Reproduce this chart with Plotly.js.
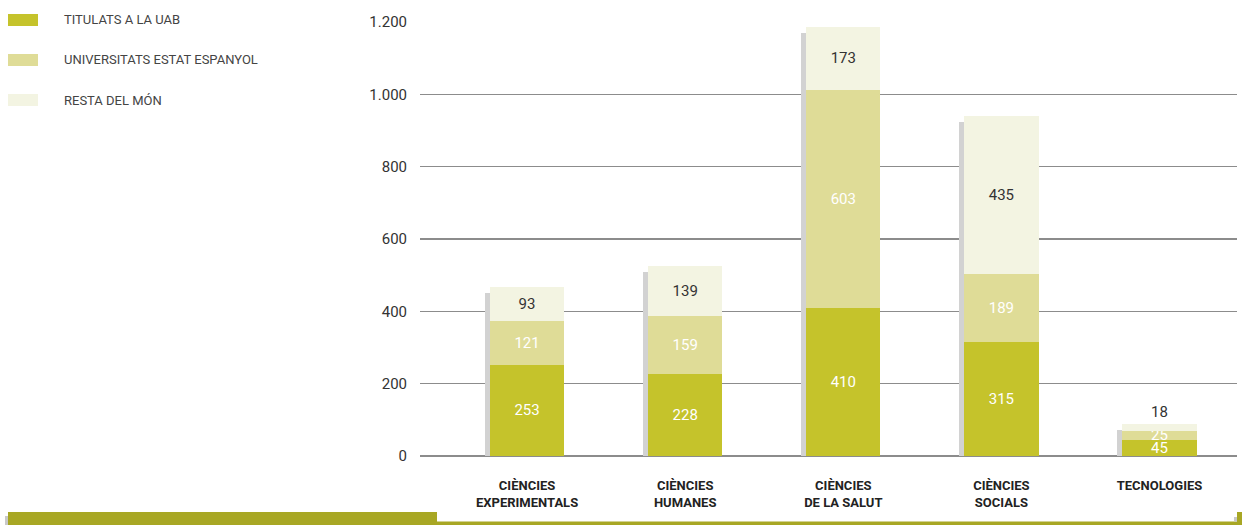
<!DOCTYPE html>
<html><head><meta charset="utf-8">
<script src="https://cdn.plot.ly/plotly-3.0.1.min.js"></script>
<style>html,body{margin:0;padding:0;background:#fff}#chart{width:1242px;height:525px}</style>
</head><body><div id="chart"></div>
<script>
const categories = ["CIÈNCIES<br>EXPERIMENTALS","CIÈNCIES<br>HUMANES","CIÈNCIES<br>DE LA SALUT","CIÈNCIES<br>SOCIALS","TECNOLOGIES"];
const seriesNames = ["TITULATS A LA UAB","UNIVERSITATS ESTAT ESPANYOL","RESTA DEL MÓN"];
const titulatsUAB = [253, 228, 410, 315, 45];
const universitatsEstat = [121, 159, 603, 189, 25];
const restaMon = [93, 139, 173, 435, 18];
const yTickVals = [0, 200, 400, 600, 800, 1000, 1200];

const totals = categories.map((c,i)=>titulatsUAB[i]+universitatsEstat[i]+restaMon[i]);

// layout geometry (pixels)
const W=1242,H=525, L=420, R=1237, T=22, B=456;
const px = x => (x-L)/(R-L);
const py = y => (B-y)/(B-T);
const xr = [-0.677, 4.49];
const unitPx = (R-L)/(xr[1]-xr[0]);
const shX = 5/unitPx;               // shadow shift left (5px)
const shY = 6*1200/(B-T);           // shadow shift down (6px)
const barW = 0.47;
const font = "Roboto, 'Open Sans', sans-serif";

const cols = ["#c5c32b", "#dfdc97", "#f3f4e2"];

const shadow = {type:'bar', x:categories, y:totals, xaxis:'x', yaxis:'y', width:barW,
  marker:{color:'#d2d2d2'}, showlegend:false, hoverinfo:'skip'};

function seg(vals, i, tcol, pos){
  return {type:'bar', name:seriesNames[i], x:categories, y:vals, xaxis:'x2', yaxis:'y2', width:barW,
    marker:{color:cols[i]}, text:vals.map(String), textposition:pos, insidetextanchor:'middle', textangle:0,
    textfont:{family:font, size:15, color:tcol}, outsidetextfont:{family:font,size:15,color:'#333'},
    constraintext:'none', cliponaxis:false, showlegend:false, hoverinfo:'y+name'};
}

const data = [shadow,
  seg(titulatsUAB,0,'#ffffff','inside'),
  seg(universitatsEstat,1,'#ffffff','inside'),
  seg(restaMon,2,'#333333',['inside','inside','inside','inside','outside'])];

const olive='#a8a724', gray='#c9c9c9';
const shapes = [
  {type:'rect', xref:'paper', yref:'paper', x0:px(5), x1:px(8), y0:py(525), y1:py(516), fillcolor:gray, line:{width:0}},
  {type:'rect', xref:'paper', yref:'paper', x0:px(8), x1:px(437), y0:py(525), y1:py(512), fillcolor:olive, line:{width:0}},
  {type:'rect', xref:'paper', yref:'paper', x0:px(437), x1:px(1237), y0:py(525), y1:py(521.5), fillcolor:olive, line:{width:0}},
  {type:'rect', xref:'paper', yref:'paper', x0:px(1234), x1:px(1237), y0:py(521.5), y1:py(517), fillcolor:gray, line:{width:0}},
  {type:'rect', xref:'paper', yref:'paper', x0:px(1237), x1:px(1243), y0:py(525), y1:py(512), fillcolor:olive, line:{width:0}}
];
// legend (swatches + labels)
const annotations = [];
seriesNames.forEach((n,i)=>{
  const cy = 20 + 40*i;
  shapes.push({type:'rect', xref:'paper', yref:'paper', x0:px(8), x1:px(38), y0:py(cy+6), y1:py(cy-6), fillcolor:cols[i], line:{width:0}});
  annotations.push({xref:'paper', yref:'paper', x:px(62), y:py(cy), xanchor:'left', yanchor:'middle', showarrow:false,
    text:n, font:{family:font, size:13, color:'#444'}});
});

const layout = {
  width:W, height:H, margin:{l:L, r:W-R, t:T, b:H-B, pad:0},
  paper_bgcolor:'#fff', plot_bgcolor:'#fff',
  barmode:'stack', separators:',.',
  font:{family:font, color:'#333'},
  uniformtext:{mode:'show', minsize:15},
  xaxis:{type:'category', range:[xr[0]+shX, xr[1]+shX], showgrid:false, showticklabels:false, zeroline:false, fixedrange:true},
  yaxis:{range:[shY, 1200+shY], showgrid:false, showticklabels:false, zeroline:false, fixedrange:true},
  xaxis2:{type:'category', overlaying:'x', anchor:'y2', range:xr, showgrid:false, zeroline:false, showline:false,
    ticks:'', ticklabelstandoff:20, tickfont:{family:font, size:13, color:'#222', weight:'bold'}},
  yaxis2:{overlaying:'y', anchor:'x2', side:'left', range:[0,1200], tickvals:yTickVals, tickformat:',d',
    showgrid:true, gridcolor:'#8c8c8c', gridwidth:1.5, zeroline:true, zerolinecolor:'#8c8c8c', zerolinewidth:1.5,
    ticks:'', ticklabelstandoff:12, tickfont:{family:font, size:15, color:'#333'}},
  shapes:shapes, annotations:annotations,
  showlegend:false
};
Plotly.newPlot('chart', data, layout, {displayModeBar:false, staticPlot:true});
</script></body></html>
